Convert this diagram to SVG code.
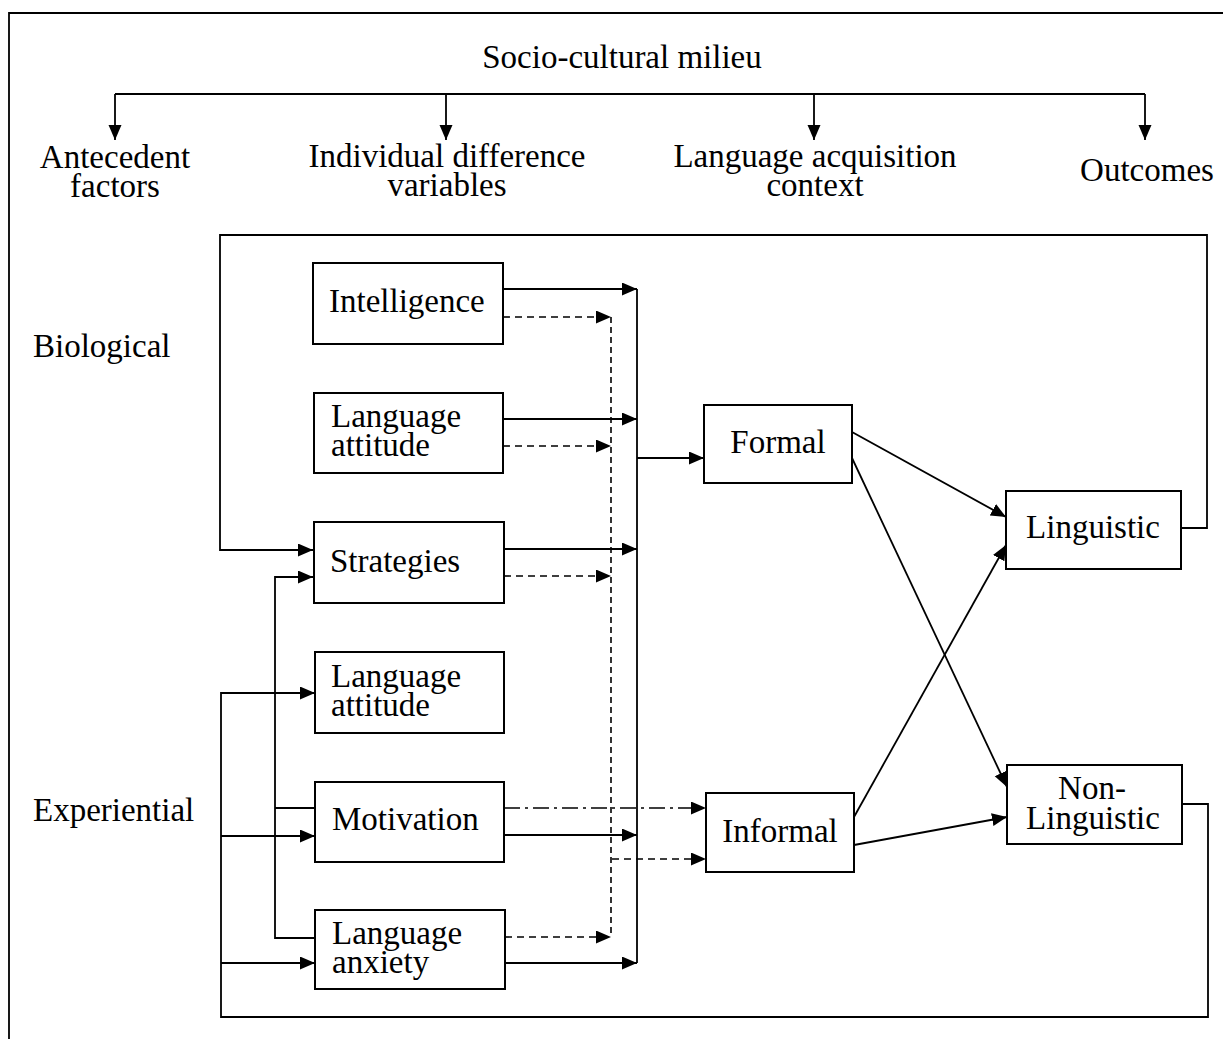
<svg xmlns="http://www.w3.org/2000/svg" width="1223" height="1039" viewBox="0 0 1223 1039">
<style>
text{font-family:"Liberation Serif","Times New Roman",serif;font-size:33px;fill:#000}
.box{fill:#fff;stroke:#000;stroke-width:2}
.ln{fill:none;stroke:#000;stroke-width:1.8}
.ds{fill:none;stroke:#000;stroke-width:1.6;stroke-dasharray:7 5}
.dv{fill:none;stroke:#000;stroke-width:1.6;stroke-dasharray:6 4}
.dd{fill:none;stroke:#000;stroke-width:1.6;stroke-dasharray:16 5 3 5}
.c{text-anchor:middle}
</style>
<defs>
<marker id="ah" markerUnits="userSpaceOnUse" markerWidth="18" markerHeight="14" refX="15" refY="6.5" orient="auto">
<path d="M0,0 L15,6.5 L0,13 z" fill="#000"/>
</marker>
</defs>
<rect width="1223" height="1039" fill="#fff"/>
<path class="ln" d="M9,1039 V13 H1223" stroke-width="2.2"/>

<g id="header">
<text x="622" y="68" class="c">Socio-cultural milieu</text>
<text class="c"><tspan x="115" y="168">Antecedent</tspan><tspan x="115" y="197">factors</tspan></text>
<text class="c"><tspan x="447" y="167">Individual difference</tspan><tspan x="447" y="196">variables</tspan></text>
<text class="c"><tspan x="815" y="167">Language acquisition</tspan><tspan x="815" y="196">context</tspan></text>
<text x="1147" y="181" class="c">Outcomes</text>
<text x="33" y="357">Biological</text>
<text x="33" y="821">Experiential</text>
</g>

<g id="connectors">
<path class="ln" d="M115,94 H1145"/>
<path class="ln" d="M115,94 V140" marker-end="url(#ah)"/>
<path class="ln" d="M446,94 V140" marker-end="url(#ah)"/>
<path class="ln" d="M814,94 V140" marker-end="url(#ah)"/>
<path class="ln" d="M1145,94 V140" marker-end="url(#ah)"/>

<path class="ln" d="M1181,528 H1207 V235 H220 V550 H313" marker-end="url(#ah)"/>
<path class="ln" d="M1182,804 H1208 V1017 H221 V693 H315" marker-end="url(#ah)"/>
<path class="ln" d="M221,836 H315" marker-end="url(#ah)"/>
<path class="ln" d="M221,963 H315" marker-end="url(#ah)"/>
<path class="ln" d="M315,808 H275"/>
<path class="ln" d="M315,938 H275 V577 H313" marker-end="url(#ah)"/>

<path class="ln" d="M503,289 H637" marker-end="url(#ah)"/>
<path class="ln" d="M503,419 H637" marker-end="url(#ah)"/>
<path class="ln" d="M504,549 H637" marker-end="url(#ah)"/>
<path class="ln" d="M504,835 H637" marker-end="url(#ah)"/>
<path class="ln" d="M505,963 H637" marker-end="url(#ah)"/>
<path class="ln" d="M637,289 V963"/>
<path class="ln" d="M637,458 H704" marker-end="url(#ah)"/>

<path class="ds" d="M503,317 H611" marker-end="url(#ah)"/>
<path class="ds" d="M503,446 H611" marker-end="url(#ah)"/>
<path class="ds" d="M504,576 H611" marker-end="url(#ah)"/>
<path class="ds" d="M505,937 H611" marker-end="url(#ah)"/>
<path class="dv" d="M611,317 V937"/>
<path class="ds" d="M612,859 H706" marker-end="url(#ah)"/>

<path class="dd" d="M504,808 H706" marker-end="url(#ah)"/>

<path class="ln" d="M852,432 L1006,517" marker-end="url(#ah)"/>
<path class="ln" d="M852,458 L1007,787" marker-end="url(#ah)"/>
<path class="ln" d="M854,817 L1006,545" marker-end="url(#ah)"/>
<path class="ln" d="M854,845 L1007,817" marker-end="url(#ah)"/>
</g>

<g id="intelligence"><rect class="box" x="313" y="263" width="190" height="81"/><text x="329" y="312">Intelligence</text></g>
<g id="language-attitude-1"><rect class="box" x="314" y="393" width="189" height="80"/><text><tspan x="331" y="427">Language</tspan><tspan x="331" y="456">attitude</tspan></text></g>
<g id="strategies"><rect class="box" x="314" y="522" width="190" height="81"/><text x="330" y="572">Strategies</text></g>
<g id="language-attitude-2"><rect class="box" x="315" y="652" width="189" height="81"/><text><tspan x="331" y="687">Language</tspan><tspan x="331" y="716">attitude</tspan></text></g>
<g id="motivation"><rect class="box" x="315" y="782" width="189" height="80"/><text x="332" y="830">Motivation</text></g>
<g id="language-anxiety"><rect class="box" x="315" y="910" width="190" height="79"/><text><tspan x="332" y="944">Language</tspan><tspan x="332" y="973">anxiety</tspan></text></g>
<g id="formal"><rect class="box" x="704" y="405" width="148" height="78"/><text x="778" y="453" class="c">Formal</text></g>
<g id="informal"><rect class="box" x="706" y="793" width="148" height="79"/><text x="780" y="842" class="c">Informal</text></g>
<g id="linguistic"><rect class="box" x="1006" y="491" width="175" height="78"/><text x="1093" y="538" class="c">Linguistic</text></g>
<g id="non-linguistic"><rect class="box" x="1007" y="765" width="175" height="79"/><text class="c"><tspan x="1092" y="799">Non-</tspan><tspan x="1093" y="829">Linguistic</tspan></text></g>
</svg>
